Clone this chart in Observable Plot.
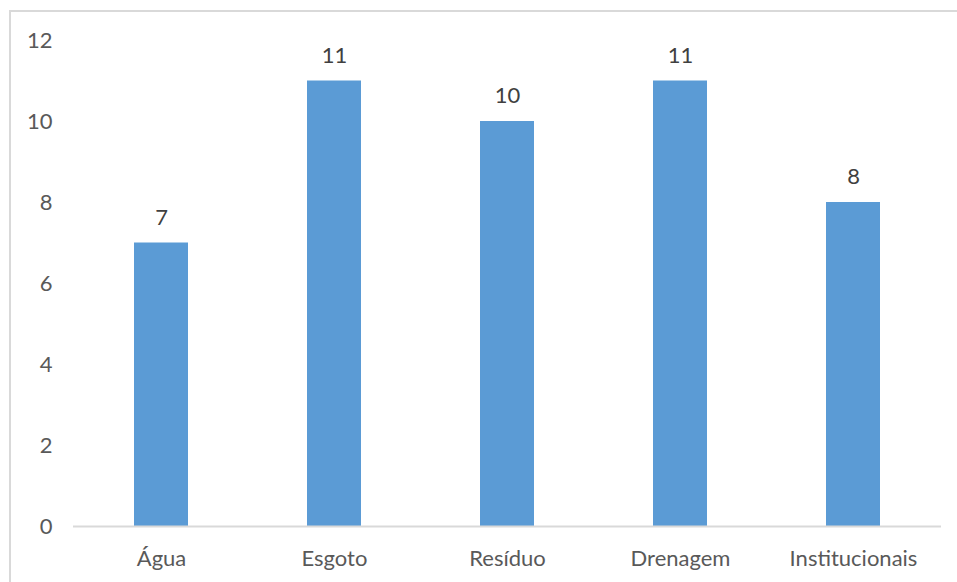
<!DOCTYPE html>
<html>
<head>
<meta charset="utf-8">
<script src="https://cdn.jsdelivr.net/npm/d3@7"></script>
<script src="https://cdn.jsdelivr.net/npm/@observablehq/plot@0.6"></script>
<style>
  html, body { margin: 0; padding: 0; background: #fff; }
  #wrap { position: relative; width: 957px; height: 582px; overflow: hidden; }
  #frame {
    position: absolute; left: 9px; top: 10px; width: 1000px; height: 700px;
    border-left: 2.5px solid #d9d9d9; border-top: 2.5px solid #d9d9d9;
  }
  #chart { position: absolute; left: 0; top: 0; }
</style>
</head>
<body>
<div id="wrap"><div id="frame"></div><div id="chart"></div></div>
<script>
// Categories and counts per area
const categories = ["Água", "Esgoto", "Resíduo", "Drenagem", "Institucionais"];
const values = [7, 11, 10, 11, 8];
const yTicks = [0, 2, 4, 6, 8, 10, 12];

const data = categories.map((c, i) => ({category: c, value: values[i]}));

const chart = Plot.plot({
  width: 957,
  height: 582,
  marginLeft: 73,
  marginRight: 16,
  marginTop: 40,
  marginBottom: 56,
  style: {
    fontFamily: "Lato, 'Open Sans', sans-serif",
    fontSize: "22px",
    color: "#595959",
    background: "transparent"
  },
  x: {domain: categories, paddingInner: 0.689, paddingOuter: 0.3445, label: null},
  y: {domain: [0, 12], label: null},
  marks: [
    Plot.barY(data, {x: "category", y: "value", fill: "#5b9bd5"}),
    Plot.ruleY([0], {stroke: "#d9d9d9", strokeWidth: 2}),
    Plot.text(data, {x: "category", y: "value", text: d => String(d.value), dy: -25.5, fill: "#404040", fontSize: 22}),
    Plot.axisY({ticks: yTicks, tickSize: 0, tickPadding: 21, label: null, fontSize: 22}),
    Plot.axisX({tickSize: 0, tickPadding: 24, label: null, fontSize: 22})
  ]
});
document.getElementById("chart").appendChild(chart);
</script>
</body>
</html>
